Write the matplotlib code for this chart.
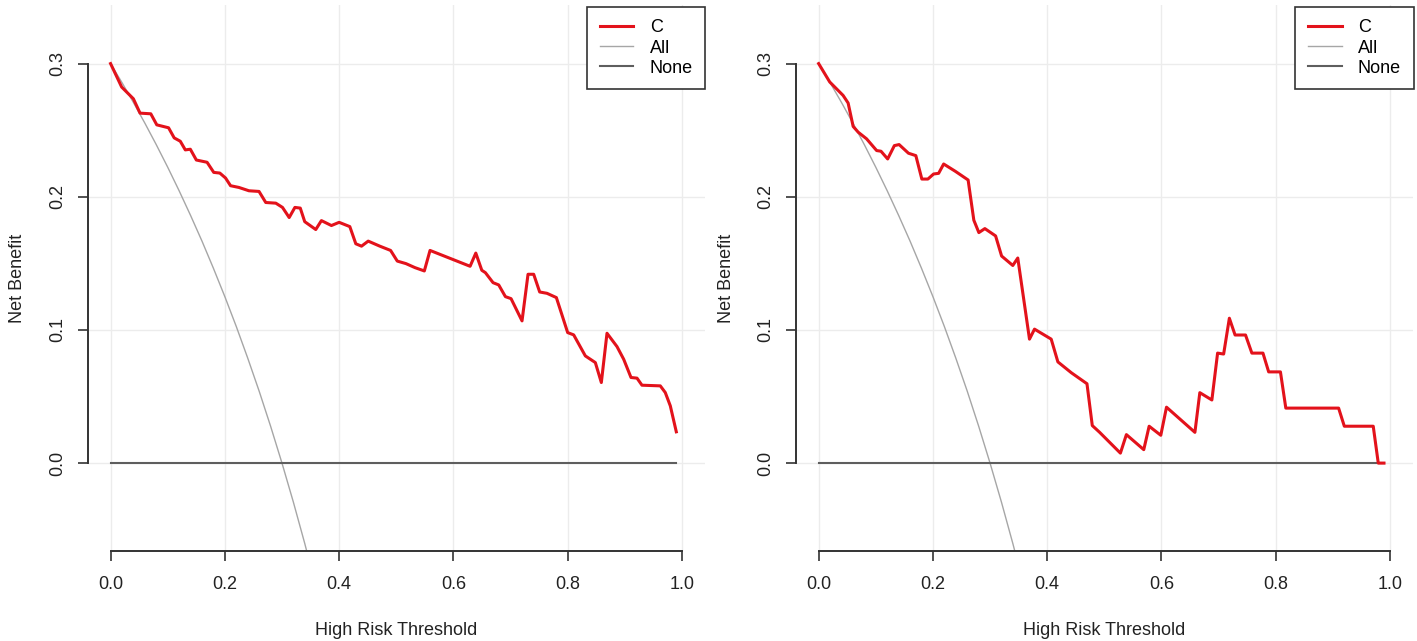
import numpy as np
import matplotlib
matplotlib.use('Agg')
import matplotlib.pyplot as plt

plt.rcParams['font.family'] = ['Liberation Sans', 'DejaVu Sans']
plt.rcParams['font.size'] = 13

# threshold probabilities and net benefit
left_x = [0.0, 0.0194, 0.0399, 0.0516, 0.0704, 0.0809, 0.1015, 0.1114, 0.122, 0.1308,
          0.1396, 0.1501, 0.1689, 0.1806, 0.1912, 0.2012, 0.21, 0.2246, 0.2422, 0.2598,
          0.2716, 0.2892, 0.3009, 0.3126, 0.3226, 0.332, 0.3398, 0.3591, 0.369, 0.3865,
          0.4, 0.4187, 0.4292, 0.4392, 0.4509, 0.4713, 0.4901, 0.5018, 0.517, 0.5327,
          0.5491, 0.5591, 0.6292, 0.6392, 0.6497, 0.656, 0.6694, 0.6793, 0.691, 0.7009,
          0.7201, 0.7306, 0.7405, 0.751, 0.7638, 0.7802, 0.8, 0.8105, 0.8309, 0.8484,
          0.8589, 0.8688, 0.8863, 0.898, 0.9108, 0.9213, 0.93, 0.9621, 0.9708, 0.9796,
          0.9901]
left_nb = [0.300, 0.2824, 0.2736, 0.2628, 0.2623, 0.2540, 0.2518, 0.2442, 0.2417, 0.2352,
           0.2357, 0.2276, 0.2259, 0.2183, 0.2178, 0.2141, 0.2083, 0.2070, 0.2045, 0.2040,
           0.1957, 0.1952, 0.1920, 0.1844, 0.1920, 0.1915, 0.1813, 0.1754, 0.1821, 0.1784,
           0.1808, 0.1776, 0.1647, 0.1629, 0.1667, 0.1629, 0.1597, 0.1517, 0.1498, 0.1468,
           0.1443, 0.1597, 0.1478, 0.1577, 0.1448, 0.1430, 0.1355, 0.1338, 0.1250, 0.1235,
           0.1068, 0.1418, 0.1418, 0.1285, 0.1275, 0.1243, 0.0980, 0.0963, 0.0805, 0.0755,
           0.0605, 0.0975, 0.0875, 0.0780, 0.0643, 0.0638, 0.0585, 0.0580, 0.0530, 0.0430,
           0.0235]

right_x = [0.0, 0.0194, 0.034, 0.0428, 0.0516, 0.0604, 0.0692, 0.0839, 0.1015, 0.1091,
           0.1208, 0.1325, 0.1408, 0.1572, 0.1701, 0.1806, 0.1912, 0.2012, 0.21, 0.2188,
           0.2393, 0.2616, 0.2716, 0.2804, 0.2909, 0.3097, 0.3202, 0.3398, 0.3485, 0.369,
           0.3778, 0.407, 0.4187, 0.4421, 0.4696, 0.4789, 0.4918, 0.5281, 0.5386, 0.569,
           0.5784, 0.5988, 0.6088, 0.6585, 0.6671, 0.6882, 0.6982, 0.7088, 0.7188, 0.7288,
           0.7471, 0.7582, 0.7776, 0.7876, 0.8082, 0.8176, 0.91, 0.92, 0.9706, 0.9794,
           0.9894]
right_nb = [0.300, 0.2862, 0.2799, 0.2761, 0.2704, 0.2528, 0.2485, 0.2435, 0.2347, 0.2342,
            0.2284, 0.2384, 0.2392, 0.2327, 0.2309, 0.2133, 0.2133, 0.2171, 0.2176, 0.2246,
            0.2191, 0.2126, 0.1824, 0.1731, 0.1761, 0.1706, 0.1555, 0.1484, 0.1540, 0.0931,
            0.1006, 0.0931, 0.0760, 0.0679, 0.0596, 0.0282, 0.0231, 0.0075, 0.0214, 0.0101,
            0.0277, 0.0209, 0.0420, 0.0231, 0.0529, 0.0474, 0.0826, 0.0819, 0.1088, 0.0962,
            0.0962, 0.0826, 0.0826, 0.0685, 0.0685, 0.0413, 0.0413, 0.0277, 0.0277, 0.0,
            0.0]

# treat-all curve (same in both panels)
all_x = [0.0, 0.02, 0.04, 0.06, 0.08, 0.10, 0.12, 0.14, 0.16, 0.18, 0.20, 0.22, 0.24,
         0.26, 0.28, 0.30, 0.32, 0.34, 0.36]
all_nb = [0.300, 0.2857, 0.2708, 0.2553, 0.2391, 0.2222, 0.2045, 0.1860, 0.1667, 0.1463,
          0.125, 0.1026, 0.0789, 0.0541, 0.0278, 0.0, -0.0294, -0.0606, -0.0938]

none_x = [0.0, 0.99]
none_nb = [0.0, 0.0]

xticks = [0.0, 0.2, 0.4, 0.6, 0.8, 1.0]
yticks = [0.0, 0.1, 0.2, 0.3]

red = '#e3121b'
axis_col = '#333333'

fig = plt.figure(figsize=(14.17, 6.41), dpi=100)
panels = [(0.0619, left_x, left_nb), (0.5616, right_x, right_nb)]

for left, cx, cnb in panels:
    ax = fig.add_axes([left, 0.1404, 0.4355, 0.8518])
    for xv in xticks:
        ax.axvline(xv, color='#ececec', lw=1, zorder=0)
    for yv in yticks:
        ax.axhline(yv, color='#ececec', lw=1, zorder=0)

    ax.plot(all_x, all_nb, color='#a6a6a6', lw=1, label='All', zorder=2)
    ax.plot(none_x, none_nb, color='#5e5e5e', lw=1.5, label='None', zorder=2)
    ax.plot(cx, cnb, color=red, lw=2.2, label='C', zorder=3)

    ax.set_xlim(-0.04, 1.04)
    ax.set_ylim(-0.066, 0.344)
    ax.set_xticks(xticks)
    ax.set_yticks(yticks)
    ax.set_xticklabels(['0.0', '0.2', '0.4', '0.6', '0.8', '1.0'])
    ax.set_yticklabels(['0.0', '0.1', '0.2', '0.3'])
    for lbl in ax.get_yticklabels():
        lbl.set_rotation(90)
        lbl.set_va('center')

    for s in ['top', 'right']:
        ax.spines[s].set_visible(False)
    ax.spines['left'].set_bounds(0.0, 0.3)
    ax.spines['bottom'].set_bounds(0.0, 1.0)
    for s in ['left', 'bottom']:
        ax.spines[s].set_color(axis_col)
        ax.spines[s].set_linewidth(1.4)
    ax.tick_params(length=7.5, width=1.2, color=axis_col, labelcolor='#222222',
                   labelsize=13)
    ax.tick_params(axis='x', pad=10.5)
    ax.tick_params(axis='y', pad=8)

    ax.set_xlabel('High Risk Threshold', fontsize=13, color='#222222')
    ax.set_ylabel('Net Benefit', fontsize=13, color='#222222')
    ax.xaxis.label.set_va('center')
    ax.yaxis.label.set_va('center')
    ax.xaxis.set_label_coords(0.5, -0.145)
    ax.yaxis.set_label_coords(-0.113, 0.5)

    h, l = ax.get_legend_handles_labels()
    order = [2, 0, 1]
    leg = ax.legend([h[i] for i in order], [l[i] for i in order], loc='upper right',
                    bbox_to_anchor=(1.004, 1.0), borderaxespad=0.1, fancybox=False,
                    frameon=True, handlelength=1.85, handletextpad=0.9,
                    labelspacing=0.17, borderpad=0.7, fontsize=13)
    leg.get_frame().set_edgecolor(axis_col)
    leg.get_frame().set_linewidth(1.2)
    leg.get_frame().set_alpha(1)

fig.savefig('out.png', dpi=100)
